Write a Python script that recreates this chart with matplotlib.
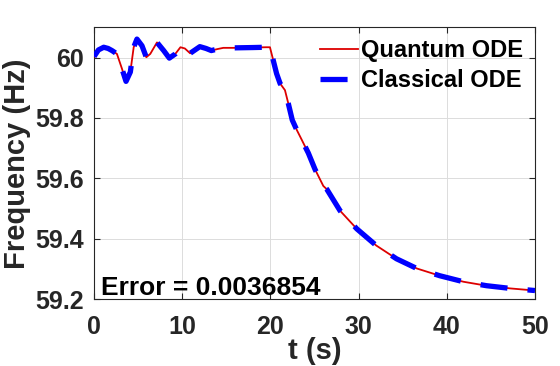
import matplotlib
matplotlib.use("Agg")
import matplotlib.pyplot as plt
from matplotlib.ticker import FormatStrFormatter

plt.rcParams['font.family'] = ['Liberation Sans', 'DejaVu Sans']
plt.rcParams['font.weight'] = 'bold'
plt.rcParams['lines.scale_dashes'] = False

# Time (s) and frequency (Hz)
t = [0, 0.5, 1.1, 1.6, 2.04, 2.6, 3.17, 3.63, 4.12, 4.5, 4.87, 5.44, 5.93,
     6.38, 7.14, 7.9, 8.54, 9.22, 9.8, 10.3, 10.9, 11.5, 12.0, 12.7, 13.3,
     14.0, 14.66, 16.0, 18.0, 19.5, 19.95, 20.33, 20.7, 21.1, 21.65, 22.03,
     22.48, 22.98, 23.55, 24.3, 25.06, 26.0, 26.4, 27.9, 29.8, 32.0, 34.3,
     36.6, 39.2, 41.9, 44.5, 47.2, 50.0]
f_quantum = [60.003, 60.025, 60.034, 60.030, 60.023, 60.012, 59.963, 59.921,
             59.952, 60.034, 60.061, 60.039, 60.001, 60.012, 60.050, 60.023,
             59.998, 60.012, 60.034, 60.030, 60.014, 60.026, 60.036, 60.030,
             60.023, 60.028, 60.032, 60.032, 60.033, 60.034, 60.034, 59.990,
             59.947, 59.914, 59.892, 59.848, 59.793, 59.761, 59.728, 59.684,
             59.630, 59.575, 59.564, 59.493, 59.433, 59.378, 59.334, 59.302,
             59.278, 59.258, 59.245, 59.236, 59.229]
f_classical = list(f_quantum)

xticks = [0, 10, 20, 30, 40, 50]
yticks = [59.2, 59.4, 59.6, 59.8, 60.0]
error_text = "Error = 0.0036854"

fig = plt.figure(figsize=(5.6, 3.66), dpi=100)
ax = fig.add_axes([94/560, 1-299.3/366, 441/560, 272/366])

ax.plot(t, f_quantum, color='#dd0000', lw=1.3, label='Quantum ODE', zorder=3)
ax.plot(t, f_classical, color='#0000ff', lw=3.8, ls=(0, (19.5, 14.5)),
        dash_capstyle='butt', label='Classical ODE', zorder=4)

ax.set_xlim(0, 50)
ax.set_ylim(59.2, 60.1)
ax.set_xticks(xticks)
ax.set_yticks(yticks)
ax.yaxis.set_major_formatter(FormatStrFormatter('%g'))
ax.grid(True, color='#dcdcdc', lw=0.7)
ax.set_axisbelow(True)
ax.tick_params(direction='in', length=4, width=0.8, top=True, right=True,
               labelsize=18, labelcolor='#262626', colors='#262626')
ax.tick_params(axis='x', pad=11)
ax.tick_params(axis='y', pad=7)
for lab in ax.get_xticklabels() + ax.get_yticklabels():
    lab.set_fontweight('bold')
for s in ax.spines.values():
    s.set_color('#262626')
    s.set_linewidth(0.8)

ax.set_xlabel('t (s)', fontsize=21, fontweight='bold', color='#262626', va='center')
ax.xaxis.set_label_coords(0.5, -0.19)
ax.set_ylabel('Frequency (Hz)', fontsize=21, fontweight='bold', color='#262626', va='center')
ax.yaxis.set_label_coords(-0.175, 0.5)

ax.text(0.015, 0.016, error_text, transform=ax.transAxes, fontsize=19,
        fontweight='bold', color='black', ha='left', va='baseline')

leg = ax.legend(loc='upper right', frameon=False, handlelength=1.6,
                handletextpad=0.15, borderaxespad=0.1, labelspacing=0.3,
                prop={'weight': 'bold', 'size': 17})

fig.savefig('out.png', dpi=100)
